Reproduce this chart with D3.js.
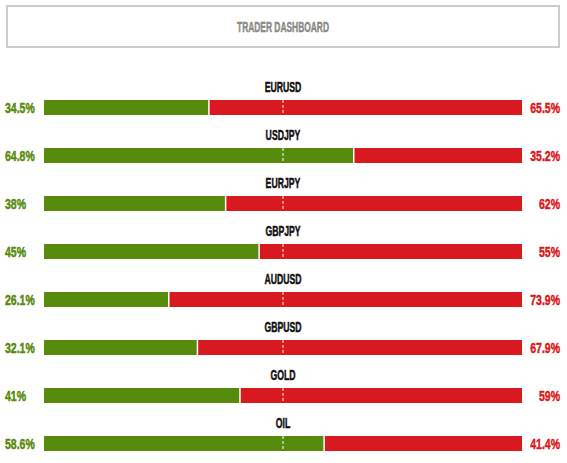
<!DOCTYPE html>
<html><head><meta charset="utf-8">
<script src="https://cdn.jsdelivr.net/npm/d3@7"></script>
<style>
html,body{margin:0;padding:0;background:#fff;}
text{font-family:"Liberation Sans Narrow","Liberation Sans",sans-serif;font-weight:bold;}
</style></head>
<body>
<svg id="c" width="567" height="463"></svg>
<script>
const title = "TRADER DASHBOARD";
const categories = ["EURUSD","USDJPY","EURJPY","GBPJPY","AUDUSD","GBPUSD","GOLD","OIL"];
const longPct  = [34.5, 64.8, 38, 45, 26.1, 32.1, 41, 58.6];
const shortPct = [65.5, 35.2, 62, 55, 73.9, 67.9, 59, 41.4];

const GREEN = "#568b0c", RED = "#d81920";
const svg = d3.select("#c");

svg.append("rect").attr("x",7).attr("y",6).attr("width",552).attr("height",41)
  .attr("fill","#fff").attr("stroke","#cccccc").attr("stroke-width",2);
function ctext(g, x, y, str, anchor, fill, size, sx){
  return g.append("text").attr("transform",`translate(${x},${y}) scale(${sx},1)`)
    .attr("text-anchor",anchor).attr("fill",fill).attr("stroke",fill).attr("stroke-width",0.5)
    .attr("font-size",size).text(str);
}
ctext(svg, 283, 31.7, title, "middle", "#8b8b85", 14.5, 0.58);

const x = d3.scaleLinear().domain([0,100]).range([44,522]);
const y = d3.scaleBand().domain(categories).range([76,460]);
const barH = 15, barOff = 24;

const rows = svg.selectAll("g.row").data(categories.map((c,i)=>({c, l:longPct[i], s:shortPct[i]})))
  .enter().append("g").attr("class","row").attr("transform",d=>`translate(0,${y(d.c)})`);

rows.append("rect").attr("x",x(0)).attr("y",barOff).attr("width",d=>x(d.l)-x(0)).attr("height",barH).attr("fill",GREEN);
rows.append("rect").attr("x",d=>x(d.l)).attr("y",barOff).attr("width",d=>x(100)-x(d.l)).attr("height",barH).attr("fill",RED);
rows.append("line").attr("x1",d=>x(d.l)).attr("x2",d=>x(d.l)).attr("y1",barOff).attr("y2",barOff+barH)
  .attr("stroke","#fff").attr("stroke-width",1.5);
rows.append("line").attr("x1",x(50)).attr("x2",x(50)).attr("y1",barOff).attr("y2",barOff+barH)
  .attr("stroke","#fff").attr("stroke-width",1).attr("stroke-dasharray","3,2");

rows.each(function(d){
  const g = d3.select(this);
  ctext(g, x(50), 15.8, d.c, "middle", "#111", 14.5, 0.6);
  ctext(g, 5, barOff+13, d.l+"%", "start", GREEN, 15, 0.7);
  ctext(g, 560, barOff+13, d.s+"%", "end", RED, 15, 0.7);
});
</script>
</body></html>
